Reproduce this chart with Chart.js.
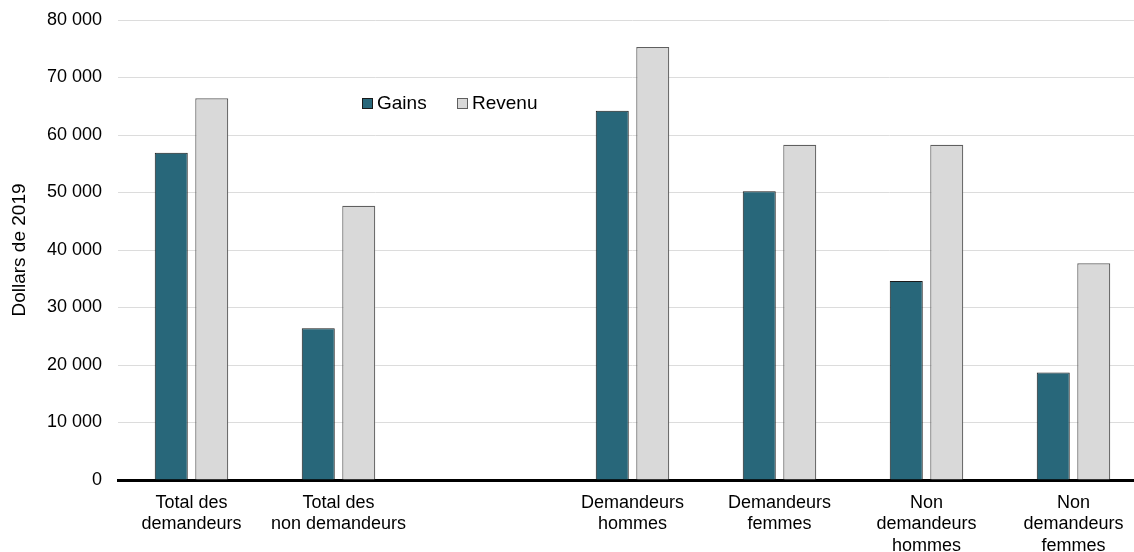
<!DOCTYPE html>
<html lang="fr">
<head>
<meta charset="utf-8">
<script src="https://cdn.jsdelivr.net/npm/chart.js@4"></script>
<style>
  html, body { margin: 0; padding: 0; background: #fff; overflow: hidden; }
  #wrap { width: 1147px; height: 552px; position: relative; }
</style>
</head>
<body>
<div id="wrap"><canvas id="chart"></canvas></div>
<script>
// categories (the empty one keeps the gap in the middle)
const categories = [
    ['Total des', 'demandeurs'],
    ['Total des', 'non demandeurs'],
    '',
    ['Demandeurs', 'hommes'],
    ['Demandeurs', 'femmes'],
    ['Non', 'demandeurs', 'hommes'],
    ['Non', 'demandeurs', 'femmes']
];
const gains  = [56900, 26400, null, 64200, 50200, 34600, 18700];
const revenu = [66400, 47700, null, 75300, 58300, 58300, 37700];
const seriesNames = ['Gains', 'Revenu'];
const yTicks = [0, 10000, 20000, 30000, 40000, 50000, 60000, 70000, 80000];

function fmt(v) {
    return String(v).replace(/\B(?=(\d{3})+(?!\d))/g, ' ');
}

// legend drawn inside the plot, like the original
const insideLegend = {
    id: 'insideLegend',
    afterDraw(chart) {
        const ctx = chart.ctx;
        const pos = [{ x: 362, y: 103 }, { x: 457, y: 103 }];
        ctx.save();
        ctx.font = '19px "Liberation Sans", Arial, sans-serif';
        ctx.textBaseline = 'middle';
        chart.data.datasets.forEach((ds, i) => {
            const p = pos[i];
            ctx.fillStyle = ds.backgroundColor;
            ctx.fillRect(p.x, p.y - 5, 11, 11);
            ctx.strokeStyle = ds.borderColor;
            ctx.lineWidth = 1;
            ctx.strokeRect(p.x + 0.5, p.y - 4.5, 10, 10);
            ctx.fillStyle = '#000';
            ctx.fillText(ds.label, p.x + 15, p.y + 1);
        });
        ctx.restore();
    }
};

Chart.defaults.font.family = '"Liberation Sans", Arial, sans-serif';
Chart.defaults.font.size = 18;
Chart.defaults.color = '#000';

const ctx = document.getElementById('chart').getContext('2d');
new Chart(ctx, {
    type: 'bar',
    data: {
        labels: categories,
        datasets: [{
            label: seriesNames[0],
            data: gains,
            backgroundColor: '#28677a',
            borderColor: '#1a1a1a',
            borderWidth: 1
        }, {
            label: seriesNames[1],
            data: revenu,
            backgroundColor: '#d9d9d9',
            borderColor: '#5f5f5f',
            borderWidth: 1.2
        }]
    },
    options: {
        responsive: true,
        maintainAspectRatio: false,
        animation: false,
        categoryPercentage: 0.551,
        barPercentage: 0.815,
        layout: { padding: { top: 20, right: 0, bottom: 0, left: 0 } },
        plugins: {
            legend: { display: false },
            tooltip: { enabled: false }
        },
        scales: {
            x: {
                z: 1,
                grid: { display: false, drawTicks: false },
                border: { display: true, color: '#000', width: 3 },
                ticks: {
                    padding: 12,
                    maxRotation: 0,
                    autoSkip: false,
                    font: { size: 18, lineHeight: 1.2 }
                },
                afterFit(scale) { scale.height = 72; }
            },
            y: {
                min: 0,
                max: 80000,
                afterBuildTicks(scale) {
                    scale.ticks = yTicks.map(v => ({ value: v }));
                },
                grid: {
                    color: '#dcdcdc',
                    lineWidth: 1,
                    drawTicks: false
                },
                border: { display: false },
                ticks: {
                    padding: 16,
                    callback: v => fmt(v)
                },
                title: {
                    display: true,
                    text: 'Dollars de 2019',
                    font: { size: 19 },
                    padding: { top: 8, bottom: 0 }
                },
                afterFit(scale) {
                    scale.width = 118;
                    scale.paddingTop = 0;
                    scale.paddingBottom = 0;
                }
            }
        }
    },
    plugins: [insideLegend]
});
</script>
</body>
</html>
